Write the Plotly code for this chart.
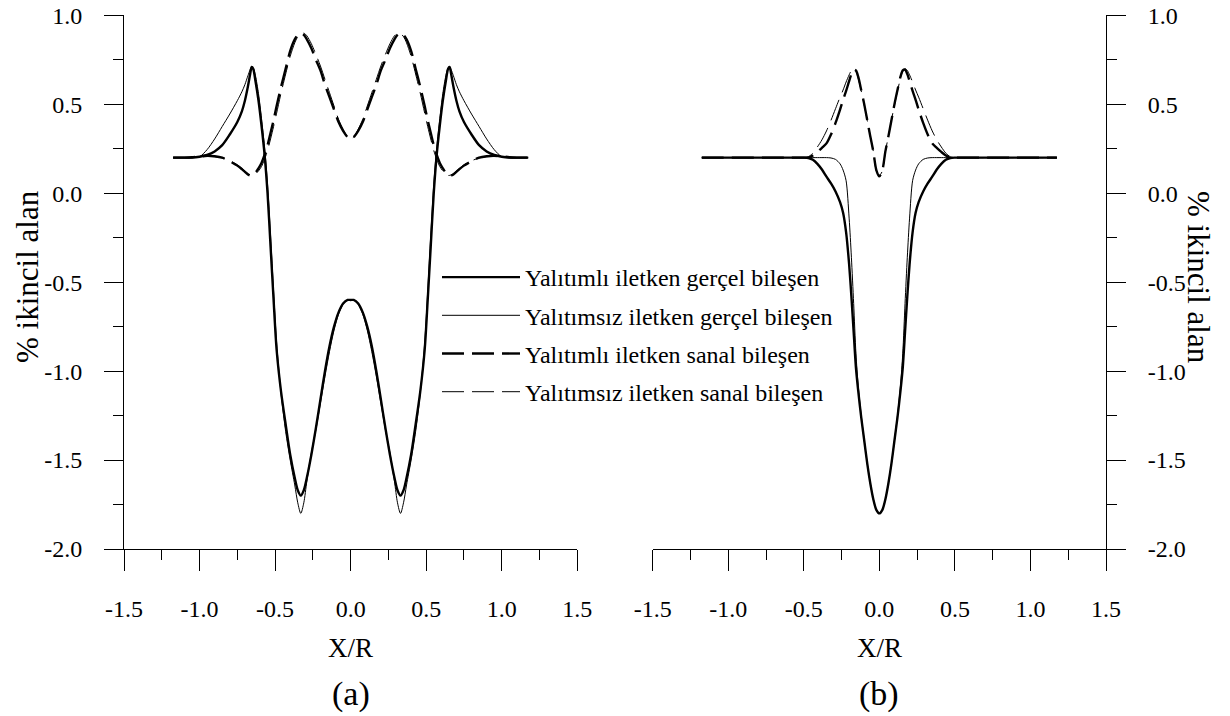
import plotly.graph_objects as go

W, H = 1230, 716

# ---------------- data: panel (a) ----------------
xa = [-1.175, -1.10, -1.05, -1.00, -0.95, -0.90, -0.85, -0.80, -0.75, -0.72, -0.70, -0.68, -0.665, -0.655,
      -0.645, -0.63, -0.61, -0.59, -0.57, -0.55, -0.53, -0.51, -0.49, -0.46, -0.43, -0.40, -0.37, -0.35,
      -0.33, -0.31, -0.29, -0.26, -0.23, -0.20, -0.17, -0.14, -0.11, -0.08, -0.05, -0.02, 0.00,
      0.02, 0.05, 0.08, 0.11, 0.14, 0.17, 0.20, 0.23, 0.26, 0.29, 0.31, 0.33, 0.35, 0.37, 0.40, 0.43,
      0.46, 0.49, 0.51, 0.53, 0.55, 0.57, 0.59, 0.61, 0.63, 0.645, 0.655, 0.665, 0.68, 0.70, 0.72, 0.75,
      0.80, 0.85, 0.90, 0.95, 1.00, 1.05, 1.10, 1.175]

a_real_ins = [0.20, 0.20, 0.20, 0.205, 0.215, 0.235, 0.27, 0.33, 0.40, 0.46, 0.52, 0.60, 0.67, 0.71,
              0.70, 0.63, 0.52, 0.38, 0.22, 0.00, -0.30, -0.60, -0.88, -1.12, -1.30, -1.47, -1.60, -1.67,
              -1.70, -1.67, -1.60, -1.47, -1.32, -1.16, -1.00, -0.86, -0.75, -0.67, -0.62, -0.60, -0.60,
              -0.60, -0.62, -0.67, -0.75, -0.86, -1.00, -1.16, -1.32, -1.47, -1.60, -1.67, -1.70, -1.67,
              -1.60, -1.47, -1.30, -1.12, -0.88, -0.60, -0.30, 0.00, 0.22, 0.38, 0.52, 0.63, 0.70, 0.71,
              0.67, 0.60, 0.52, 0.46, 0.40, 0.33, 0.27, 0.235, 0.215, 0.205, 0.20, 0.20, 0.20]

a_real_unins = [0.20, 0.20, 0.20, 0.205, 0.245, 0.305, 0.375, 0.445, 0.52, 0.57, 0.61, 0.66, 0.695, 0.71,
                0.705, 0.66, 0.56, 0.42, 0.26, 0.05, -0.24, -0.55, -0.84, -1.13, -1.34, -1.50, -1.64, -1.74,
                -1.80, -1.74, -1.62, -1.46, -1.33, -1.18, -1.03, -0.89, -0.77, -0.68, -0.625, -0.60, -0.60,
                -0.60, -0.625, -0.68, -0.77, -0.89, -1.03, -1.18, -1.33, -1.46, -1.62, -1.74, -1.80, -1.74,
                -1.64, -1.50, -1.34, -1.13, -0.84, -0.55, -0.24, 0.05, 0.26, 0.42, 0.56, 0.66, 0.705, 0.71,
                0.695, 0.66, 0.61, 0.57, 0.52, 0.445, 0.375, 0.305, 0.245, 0.205, 0.20, 0.20, 0.20]

a_imag_ins = [0.20, 0.20, 0.202, 0.207, 0.21, 0.208, 0.20, 0.18, 0.155, 0.135, 0.12, 0.105, 0.10, 0.10,
              0.105, 0.115, 0.14, 0.17, 0.215, 0.27, 0.34, 0.41, 0.49, 0.60, 0.70, 0.80, 0.865, 0.89,
              0.90, 0.89, 0.865, 0.815, 0.75, 0.69, 0.61, 0.54, 0.47, 0.40, 0.35, 0.315, 0.305,
              0.315, 0.35, 0.40, 0.47, 0.54, 0.61, 0.69, 0.75, 0.815, 0.865, 0.89, 0.90, 0.89,
              0.865, 0.80, 0.70, 0.60, 0.49, 0.41, 0.34, 0.27, 0.215, 0.17, 0.14, 0.115, 0.105, 0.10,
              0.10, 0.105, 0.12, 0.135, 0.155, 0.18, 0.20, 0.208, 0.21, 0.207, 0.202, 0.20, 0.20]

a_imag_unins = [0.20, 0.20, 0.20, 0.203, 0.206, 0.205, 0.198, 0.182, 0.16, 0.14, 0.125, 0.11, 0.103, 0.10,
                0.10, 0.108, 0.125, 0.15, 0.19, 0.24, 0.305, 0.375, 0.45, 0.565, 0.67, 0.77, 0.845, 0.88,
                0.898, 0.90, 0.885, 0.84, 0.78, 0.715, 0.64, 0.565, 0.49, 0.415, 0.36, 0.315, 0.305,
                0.315, 0.36, 0.415, 0.49, 0.565, 0.64, 0.715, 0.78, 0.84, 0.885, 0.90, 0.898, 0.88,
                0.845, 0.77, 0.67, 0.565, 0.45, 0.375, 0.305, 0.24, 0.19, 0.15, 0.125, 0.108, 0.10, 0.10,
                0.103, 0.11, 0.125, 0.14, 0.16, 0.182, 0.198, 0.205, 0.206, 0.203, 0.20, 0.20, 0.20]

# ---------------- data: panel (b) ----------------
xb = [-1.175, -1.05, -0.90, -0.75, -0.60, -0.55, -0.50, -0.47, -0.44, -0.41, -0.38, -0.35, -0.32, -0.29,
      -0.26, -0.24, -0.22, -0.20, -0.185, -0.17, -0.155, -0.14, -0.12, -0.10, -0.08, -0.06, -0.04, -0.02,
      0.00,
      0.02, 0.04, 0.06, 0.08, 0.10, 0.12, 0.14, 0.155, 0.17, 0.185, 0.20, 0.22, 0.24, 0.26, 0.29, 0.32,
      0.35, 0.38, 0.41, 0.44, 0.47, 0.50, 0.55, 0.60, 0.75, 0.90, 1.05, 1.175]

b_real_ins = [0.20, 0.20, 0.20, 0.20, 0.20, 0.20, 0.20, 0.198, 0.188, 0.165, 0.133, 0.093, 0.055, 0.01,
              -0.05, -0.11, -0.22, -0.40, -0.58, -0.78, -0.98, -1.11, -1.26, -1.39, -1.52, -1.63, -1.72, -1.78,
              -1.80,
              -1.78, -1.72, -1.63, -1.52, -1.39, -1.26, -1.11, -0.98, -0.78, -0.58, -0.40, -0.22, -0.11, -0.05,
              0.01, 0.055, 0.093, 0.133, 0.165, 0.188, 0.198, 0.20, 0.20, 0.20, 0.20, 0.20, 0.20, 0.20]

b_real_unins = [0.20, 0.20, 0.20, 0.20, 0.20, 0.20, 0.20, 0.20, 0.20, 0.20, 0.20, 0.20, 0.198, 0.19,
                0.165, 0.13, 0.07, -0.14, -0.36, -0.62, -0.90, -1.08, -1.25, -1.39, -1.52, -1.63, -1.72, -1.78,
                -1.80,
                -1.78, -1.72, -1.63, -1.52, -1.39, -1.25, -1.08, -0.90, -0.62, -0.36, -0.14, 0.07, 0.13, 0.165,
                0.19, 0.198, 0.20, 0.20, 0.20, 0.20, 0.20, 0.20, 0.20, 0.20, 0.20, 0.20, 0.20, 0.20]

b_imag_ins = [0.20, 0.20, 0.20, 0.20, 0.20, 0.20, 0.20, 0.20, 0.212, 0.232, 0.255, 0.28, 0.33, 0.395,
              0.47, 0.525, 0.575, 0.63, 0.67, 0.695, 0.69, 0.655, 0.58, 0.50, 0.41, 0.32, 0.235, 0.13,
              0.095,
              0.13, 0.235, 0.32, 0.41, 0.50, 0.58, 0.655, 0.69, 0.695, 0.67, 0.63, 0.575, 0.525, 0.47,
              0.395, 0.33, 0.28, 0.255, 0.232, 0.212, 0.20, 0.20, 0.20, 0.20, 0.20, 0.20, 0.20, 0.20]

b_imag_unins = [0.20, 0.20, 0.20, 0.20, 0.20, 0.20, 0.20, 0.205, 0.225, 0.26, 0.30, 0.35, 0.41, 0.475,
                0.54, 0.58, 0.625, 0.665, 0.69, 0.70, 0.685, 0.645, 0.575, 0.495, 0.41, 0.32, 0.235, 0.125,
                0.10,
                0.125, 0.235, 0.32, 0.41, 0.495, 0.575, 0.645, 0.685, 0.70, 0.69, 0.665, 0.625, 0.58, 0.54,
                0.475, 0.41, 0.35, 0.30, 0.26, 0.225, 0.205, 0.20, 0.20, 0.20, 0.20, 0.20, 0.20, 0.20]

series_names = ["Yalıtımlı iletken gerçel bileşen", "Yalıtımsız iletken gerçel bileşen",
                "Yalıtımlı iletken sanal bileşen", "Yalıtımsız iletken sanal bileşen"]

x_tickvals = [-1.5, -1.0, -0.5, 0.0, 0.5, 1.0, 1.5]
x_ticktext = ["-1.5", "-1.0", "-0.5", "0.0", "0.5", "1.0", "1.5"]
y_tickvals = [-2.0, -1.5, -1.0, -0.5, 0.0, 0.5, 1.0]
y_ticktext = ["-2.0", "-1.5", "-1.0", "-0.5", "0.0", "0.5", "1.0"]

y_title = "% ikincil alan"
x_title = "X/R"
panel_labels = ["(a)", "(b)"]

FONT = "Liberation Serif"
DASH = "22px,8px"
styles = [dict(width=2.4, dash="solid"), dict(width=1.0, dash="solid"),
          dict(width=2.4, dash=DASH), dict(width=1.0, dash=DASH)]

fig = go.Figure()

a_series = [a_real_ins, a_real_unins, a_imag_ins, a_imag_unins]
b_series = [b_real_ins, b_real_unins, b_imag_ins, b_imag_unins]

for i, (name, ys) in enumerate(zip(series_names, a_series)):
    fig.add_trace(go.Scatter(
        x=xa, y=ys, mode="lines", name=name, legendgroup=f"g{i}",
        line=dict(color="black", shape="spline", smoothing=0.8, **styles[i]),
        xaxis="x", yaxis="y", showlegend=True))

for i, (name, ys) in enumerate(zip(series_names, b_series)):
    fig.add_trace(go.Scatter(
        x=xb, y=ys, mode="lines", name=name, legendgroup=f"g{i}",
        line=dict(color="black", shape="spline", smoothing=0.8, **styles[i]),
        xaxis="x2", yaxis="y2", showlegend=False))

ydom = [1 - 549 / H, 1 - 15.3 / H]
xdom1 = [124 / W, 577.3 / W]
xdom2 = [652.7 / W, 1106 / W]

tickfont = dict(family=FONT, size=24, color="black")

def xax(dom, anchor):
    return dict(domain=dom, anchor=anchor, range=[-1.5, 1.5], tickvals=x_tickvals, ticktext=x_ticktext,
                ticks="outside", ticklen=21, tickwidth=1, tickcolor="black", showline=True,
                linecolor="black", linewidth=1, showgrid=False, zeroline=False, tickfont=tickfont,
                ticklabelstandoff=17, automargin=False,
                minor=dict(ticks="outside", ticklen=10, dtick=0.25, tick0=0, tickcolor="black",
                           tickwidth=1, showgrid=False))

def yax(anchor, side):
    return dict(domain=ydom, anchor=anchor, side=side, range=[-2, 1], tickvals=y_tickvals,
                ticktext=y_ticktext, ticks="outside", ticklen=19, tickwidth=1, tickcolor="black",
                showline=True, linecolor="black", linewidth=1, showgrid=False, zeroline=False,
                tickfont=tickfont, ticklabelstandoff=17, automargin=False,
                minor=dict(ticks="outside", ticklen=10, dtick=0.25, tick0=0, tickcolor="black",
                           tickwidth=1, showgrid=False))

def ann(text, xp, yp, size, angle=0):
    return dict(text=text, x=xp / W, y=1 - yp / H, xref="paper", yref="paper", textangle=angle,
                xanchor="center", yanchor="middle", showarrow=False,
                font=dict(family=FONT, size=size, color="black"))

cx1 = (124 + 577.3) / 2
cx2 = (652.7 + 1106) / 2
annotations = [
    ann(x_title, cx1, 648, 27),
    ann(x_title, cx2, 648, 27),
    ann(panel_labels[0], cx1, 694, 34),
    ann(panel_labels[1], cx2, 694, 34),
    ann(y_title, 27, 277, 31, -90),
    ann(y_title, 1199, 277, 31, 90),
]

fig.update_layout(
    width=W, height=H, margin=dict(l=0, r=0, t=0, b=0, autoexpand=False),
    paper_bgcolor="white", plot_bgcolor="white",
    xaxis=xax(xdom1, "y"), yaxis=yax("x", "left"),
    xaxis2=xax(xdom2, "y2"), yaxis2=yax("x2", "right"),
    annotations=annotations,
    legend=dict(x=437 / W, y=1 - 255 / H, xanchor="left", yanchor="top", bgcolor="rgba(0,0,0,0)",
                font=dict(family=FONT, size=24, color="black"), itemwidth=78, tracegroupgap=4,
                traceorder="grouped"),
    font=dict(family=FONT, color="black"),
)

fig.write_html("out.html")
